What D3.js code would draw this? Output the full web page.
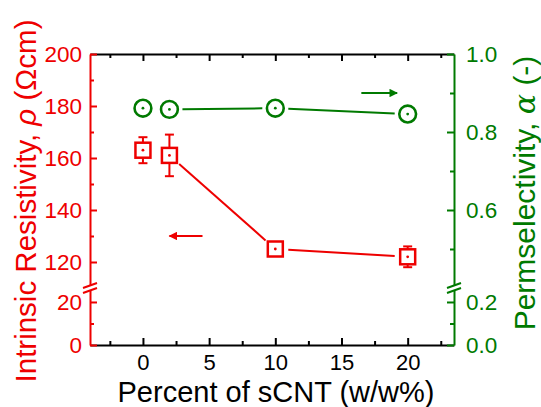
<!DOCTYPE html>
<html><head><meta charset="utf-8">
<script src="https://cdn.jsdelivr.net/npm/d3@7"></script>
<style>
html,body{margin:0;padding:0;background:#fff;}
svg{display:block;font-family:"Liberation Sans",Arial,Helvetica,sans-serif;}
</style></head>
<body><svg id="c" width="541" height="407"></svg>
<script>
// ---- data ----
const sCNT = [0, 2, 10, 20];
const rho = [163, 161, 125, 122];
const rhoErr = [5, 8, 1.5, 4];
const alpha = [0.861, 0.858, 0.861, 0.846];
const xTicks = [0, 5, 10, 15, 20];
const xMinor = [-2.5, 2.5, 7.5, 12.5, 17.5, 22.5];
const leftTop = [120, 140, 160, 180, 200];
const leftTopMinor = [130, 150, 170, 190];
const leftBot = [0, 20];
const leftBotMinor = [10];
const rightTop = [0.6, 0.8, 1.0];
const rightTopMinor = [0.5, 0.7, 0.9];
const rightBot = [0.0, 0.2];
const rightBotMinor = [0.1];
const arrowRho = {x0: 4.5, x1: 2, y: 130};
const arrowAlpha = {x0: 16.5, x1: 19.2, y: 0.9};

const RED = "#ee0000", GREEN = "#007a00";
const svg = d3.select("#c");
const L = 90, R = 454, T = 54, B = 345, BRK = 288;

const x = d3.scaleLinear().domain([-4, 23.5]).range([L, R]);
const yLT = d3.scaleLinear().domain([110, 200]).range([BRK, T]);
const yLB = d3.scaleLinear().domain([0, 26.5]).range([B, BRK]);
const yRT = d3.scaleLinear().domain([0.4, 1.0]).range([BRK, T]);
const yRB = d3.scaleLinear().domain([0, 0.265]).range([B, BRK]);
const yL = v => v >= 110 ? yLT(v) : yLB(v);
const yR = v => v >= 0.4 ? yRT(v) : yRB(v);

function styleAxis(g, color, fs) {
  g.selectAll("path.domain").attr("stroke", color).attr("stroke-width", 2);
  g.selectAll(".tick line").attr("stroke", color).attr("stroke-width", 2);
  g.selectAll(".tick text").attr("fill", color).style("font-size", fs + "px").attr("font-family", null);
}
// bottom axis
let g = svg.append("g").attr("transform", `translate(0,${B})`)
  .call(d3.axisBottom(x).tickValues(xTicks).tickSize(-7).tickSizeOuter(0).tickPadding(9).tickFormat(d3.format("d")));
styleAxis(g, "#000", 22);
g.selectAll(".tick text").attr("dy", null).attr("y", 25);
g = svg.append("g").attr("transform", `translate(0,${B})`)
  .call(d3.axisBottom(x).tickValues(xMinor).tickSize(-4).tickSizeOuter(0).tickFormat(""));
styleAxis(g, "#000", 22); g.select("path.domain").remove();
// top axis
g = svg.append("g").attr("transform", `translate(0,${T})`)
  .call(d3.axisTop(x).tickValues(xTicks).tickSize(-7).tickSizeOuter(0).tickFormat(""));
styleAxis(g, "#000", 22);
g = svg.append("g").attr("transform", `translate(0,${T})`)
  .call(d3.axisTop(x).tickValues(xMinor).tickSize(-4).tickSizeOuter(0).tickFormat(""));
styleAxis(g, "#000", 22); g.select("path.domain").remove();

// vertical axes (broken)
function vaxis(axisFn, scale, major, minor, tx, color, fmt, pad) {
  let a = svg.append("g").attr("transform", `translate(${tx},0)`)
    .call(axisFn(scale).tickValues(major).tickSize(-7).tickSizeOuter(0).tickPadding(pad).tickFormat(fmt));
  styleAxis(a, color, 22.5);
  let b = svg.append("g").attr("transform", `translate(${tx},0)`)
    .call(axisFn(scale).tickValues(minor).tickSize(-4).tickSizeOuter(0).tickFormat(""));
  styleAxis(b, color, 22); b.select("path.domain").remove();
}
vaxis(d3.axisLeft, yLT, leftTop, leftTopMinor, L, RED, d3.format("d"), 8);
vaxis(d3.axisLeft, yLB, leftBot, leftBotMinor, L, RED, d3.format("d"), 8);
vaxis(d3.axisRight, yRT, rightTop, rightTopMinor, R, GREEN, d3.format(".1f"), 12);
vaxis(d3.axisRight, yRB, rightBot, rightBotMinor, R, GREEN, d3.format(".1f"), 12);

// break marks
function breakMark(ax, color) {
  svg.append("rect").attr("x", ax - 3).attr("y", BRK - 2.5).attr("width", 6).attr("height", 5).attr("fill", "#fff");
  [-2.5, 2.5].forEach(o => {
    svg.append("line").attr("x1", ax - 7).attr("y1", BRK + o + 2.5).attr("x2", ax + 7).attr("y2", BRK + o - 2.5)
      .attr("stroke", color).attr("stroke-width", 2);
  });
}
breakMark(L, RED);
breakMark(R, GREEN);

// connecting lines with gaps around symbols
function gappedLines(pts, color, gap) {
  for (let i = 0; i < pts.length - 1; i++) {
    const [x0, y0] = pts[i], [x1, y1] = pts[i + 1];
    const dx = x1 - x0, dy = y1 - y0, len = Math.hypot(dx, dy);
    if (len - 2 * gap < 4) continue;
    const ux = dx / len, uy = dy / len;
    svg.append("line").attr("x1", x0 + ux * gap).attr("y1", y0 + uy * gap)
      .attr("x2", x1 - ux * gap).attr("y2", y1 - uy * gap)
      .attr("stroke", color).attr("stroke-width", 2);
  }
}
const rhoPts = sCNT.map((d, i) => [x(d), yL(rho[i])]);
const alphaPts = sCNT.map((d, i) => [x(d), yR(alpha[i])]);
gappedLines(rhoPts, RED, 13);
gappedLines(alphaPts, GREEN, 13);

// error bars
sCNT.forEach((d, i) => {
  const cx = x(d), yt = yL(rho[i] + rhoErr[i]), yb = yL(rho[i] - rhoErr[i]);
  svg.append("line").attr("x1", cx).attr("x2", cx).attr("y1", yt).attr("y2", yb).attr("stroke", RED).attr("stroke-width", 2);
  [yt, yb].forEach(yy => svg.append("line").attr("x1", cx - 4.5).attr("x2", cx + 4.5).attr("y1", yy).attr("y2", yy)
    .attr("stroke", RED).attr("stroke-width", 2));
});
// square markers
const SQ = 15;
svg.selectAll("rect.sq").data(rhoPts).enter().append("rect").attr("class", "sq")
  .attr("x", d => d[0] - SQ / 2).attr("y", d => d[1] - SQ / 2).attr("width", SQ).attr("height", SQ)
  .attr("fill", "#fff").attr("stroke", RED).attr("stroke-width", 2.5);
svg.selectAll("circle.sqd").data(rhoPts).enter().append("circle")
  .attr("cx", d => d[0]).attr("cy", d => d[1]).attr("r", 1.4).attr("fill", RED);
// circle markers
svg.selectAll("circle.ci").data(alphaPts).enter().append("circle").attr("class", "ci")
  .attr("cx", d => d[0]).attr("cy", d => d[1]).attr("r", 8.4)
  .attr("fill", "#fff").attr("stroke", GREEN).attr("stroke-width", 2.6);
svg.selectAll("circle.cid").data(alphaPts).enter().append("circle")
  .attr("cx", d => d[0]).attr("cy", d => d[1]).attr("r", 1.4).attr("fill", GREEN);

// arrows
const defs = svg.append("defs");
[["ar", RED], ["ag", GREEN]].forEach(([id, c]) => {
  defs.append("marker").attr("id", id).attr("viewBox", "0 0 10 10").attr("refX", 9).attr("refY", 5)
    .attr("markerWidth", 5).attr("markerHeight", 4.2).attr("markerUnits", "strokeWidth").attr("orient", "auto")
    .append("path").attr("d", "M0,0 L10,5 L0,10 Z").attr("fill", c);
});
svg.append("line").attr("x1", x(arrowRho.x0)).attr("x2", x(arrowRho.x1)).attr("y1", yL(arrowRho.y)).attr("y2", yL(arrowRho.y))
  .attr("stroke", RED).attr("stroke-width", 2).attr("marker-end", "url(#ar)");
svg.append("line").attr("x1", x(arrowAlpha.x0)).attr("x2", x(arrowAlpha.x1)).attr("y1", yR(arrowAlpha.y)).attr("y2", yR(arrowAlpha.y))
  .attr("stroke", GREEN).attr("stroke-width", 2).attr("marker-end", "url(#ag)");

// titles
svg.append("text").attr("x", 276).attr("y", 402).attr("text-anchor", "middle")
  .style("font-size", "29px").attr("fill", "#000").text("Percent of sCNT (w/w%)");
const lt = svg.append("text").attr("transform", "translate(36,201) rotate(-90)").attr("text-anchor", "middle")
  .style("font-size", "29.5px").attr("fill", RED);
lt.append("tspan").text("Intrinsic Resistivity, ");
lt.append("tspan").style("font-style", "italic").text("ρ");
lt.append("tspan").text(" (Ωcm)");
const rt = svg.append("text").attr("transform", "translate(535,193) rotate(-90)").attr("text-anchor", "middle")
  .style("font-size", "30px").attr("fill", GREEN);
rt.append("tspan").text("Permselectivity, ");
rt.append("tspan").style("font-style", "italic").style("font-family", "'DejaVu Serif',serif").text("α");
rt.append("tspan").text(" (-)");
</script></body></html>
